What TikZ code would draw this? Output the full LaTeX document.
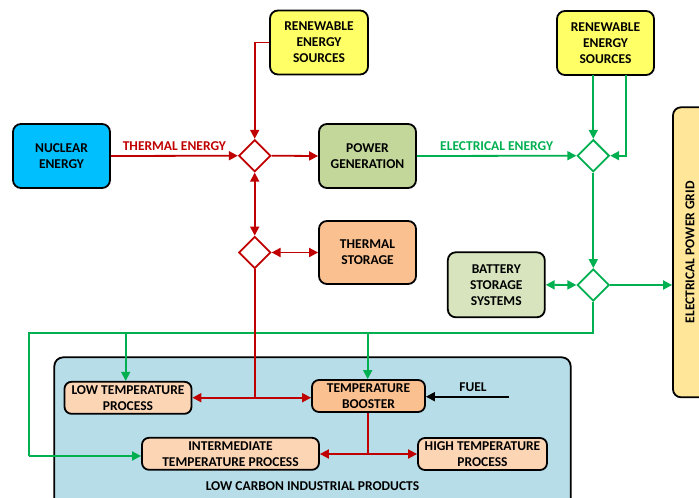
\documentclass[tikz,border=0pt]{standalone}
\usepackage{fontspec}
\setmainfont{Carlito}
\usetikzlibrary{shapes.geometric,arrows.meta}
\definecolor{flowred}{HTML}{C00000}
\definecolor{flowgreen}{HTML}{00B050}
\definecolor{nuccyan}{HTML}{00BFFF}
\definecolor{renyellow}{HTML}{FFFF66}
\definecolor{gengreen}{HTML}{C4D79B}
\definecolor{peachdark}{HTML}{FAC090}
\definecolor{peachlight}{HTML}{FCD5B5}
\definecolor{batgreen}{HTML}{D7E4BD}
\definecolor{indblue}{HTML}{B7DEE8}
\definecolor{gridyellow}{HTML}{FFE699}
\tikzset{
  box/.style={draw=black, line width=1.8pt, rounded corners=8pt, align=center,
    inner sep=0pt, font=\fontsize{13.5}{16}\selectfont\bfseries},
  smallbox/.style={box, rounded corners=7pt, font=\fontsize{13.5}{16}\selectfont\bfseries},
  junction/.style={diamond, draw, fill=white, line width=1.8pt, aspect=1,
    minimum width=32pt, minimum height=32pt, inner sep=0pt},
  tip/.style={-{Triangle[length=9pt,width=9pt]}},
  twotip/.style={{Triangle[length=9pt,width=9pt]}-{Triangle[length=9pt,width=9pt]}},
  redflow/.style={draw=flowred, line width=1.8pt, color=flowred},
  greenflow/.style={draw=flowgreen, line width=1.8pt, color=flowgreen},
  flowlabel/.style={font=\fontsize{13.5}{16}\selectfont\bfseries}
}
\begin{document}
\begin{tikzpicture}[x=1pt,y=-1pt]
\clip (0,0) rectangle (699,498);
\useasboundingbox (0,0) rectangle (699,498);

% industrial products area
\draw[fill=indblue, line width=1.8pt, rounded corners=9pt] (54.3,357.3) rectangle (570.7,515);
\node[flowlabel] (prodlabel) at (312.5,486.5) {LOW CARBON INDUSTRIAL PRODUCTS};

% main blocks
\node[box, fill=nuccyan, minimum width=97pt, minimum height=64pt] (nuc) at (61.5,156) {NUCLEAR\\ENERGY};
\node[box, fill=renyellow, minimum width=98pt, minimum height=64pt] (ren1) at (319,42.5) {RENEWABLE\\ENERGY\\SOURCES};
\node[box, fill=renyellow, minimum width=97pt, minimum height=64pt] (ren2) at (605.5,43) {RENEWABLE\\ENERGY\\SOURCES};
\node[box, fill=gengreen, minimum width=97pt, minimum height=64pt] (pg) at (367.5,156) {POWER\\GENERATION};
\node[box, fill=peachdark, minimum width=97pt, minimum height=63pt] (ts) at (367.5,252.5) {THERMAL\\STORAGE};
\node[box, fill=batgreen, minimum width=97pt, minimum height=65pt] (bat) at (496.3,284.8) {BATTERY\\STORAGE\\SYSTEMS};
\node[box, fill=gridyellow, minimum width=290pt, minimum height=34pt, rotate=90] (grid) at (690,252.3) {ELECTRICAL POWER GRID};

% process blocks
\node[smallbox, fill=peachlight, minimum width=127pt, minimum height=32pt] (ltp) at (128,397.8) {LOW TEMPERATURE\\PROCESS};
\node[smallbox, fill=peachdark, minimum width=113pt, minimum height=32pt] (tb) at (368.5,396) {TEMPERATURE\\BOOSTER};
\node[smallbox, fill=peachlight, minimum width=177pt, minimum height=32pt] (itp) at (230.5,453.8) {INTERMEDIATE\\TEMPERATURE PROCESS};
\node[smallbox, fill=peachlight, minimum width=129pt, minimum height=32pt] (htp) at (482.5,454) {HIGH TEMPERATURE\\PROCESS};

% junctions
\node[junction, draw=flowred] (d1) at (254.7,155.7) {};
\node[junction, draw=flowred] (d2) at (254.7,252.5) {};
\node[junction, draw=flowgreen] (d3) at (593.3,155.7) {};
\node[junction, draw=flowgreen] (d4) at (593.3,285) {};

% helper points
\coordinate (redsplit) at (254.7,397.7);
\coordinate (boostsplit) at (368.3,454);
\coordinate (fuelsrc) at (509.3,396.7);
\coordinate (ren2a) at (593.3,75);
\coordinate (ren2b) at (625.7,75);
\coordinate (gbusR) at (593.3,333);
\coordinate (gbusL) at (28.7,333);
\coordinate (gdown) at (28.7,456);
\coordinate (gltp) at (125.7,333);
\coordinate (gtb) at (367.7,333);

% thermal paths
\draw[redflow, tip] (nuc.east) -- node[flowlabel, above=1pt] {THERMAL ENERGY} (d1.west);
\draw[redflow, tip] (ren1.west) -| (d1.north);
\draw[redflow, tip] (d1.east) -- (pg.west);
\draw[redflow, twotip] (d1.south) -- (d2.north);
\draw[redflow, twotip] (d2.east) -- (ts.west);

% electrical paths
\draw[greenflow, tip] (pg.east) -- node[flowlabel, above=1pt] {ELECTRICAL ENERGY} (d3.west);
\draw[greenflow, tip] (ren2a) -- (d3.north);
\draw[greenflow, tip] (ren2b) |- (d3.east);
\draw[greenflow, tip] (d3.south) -- (d4.north);
\draw[greenflow, twotip] (bat.east) -- (d4.west);
\draw[greenflow, tip] (d4.east) -- (d4.east -| grid.north);
\draw[greenflow] (d4.south) -- (gbusR) -- (gbusL) -- (gdown);
\draw[greenflow, tip] (gdown) -- (gdown -| itp.west);
\draw[greenflow, tip] (gltp) -- (gltp |- ltp.north);
\draw[greenflow, tip] (gtb) -- (gtb |- tb.north);

% heat to processes
\draw[redflow] (d2.south) -- (redsplit);
\draw[redflow, tip] (redsplit) -- (redsplit -| ltp.east);
\draw[redflow, tip] (redsplit) -- (redsplit -| tb.west);
\draw[redflow] (tb.south -| boostsplit) -- (boostsplit);
\draw[redflow, tip] (boostsplit) -- (boostsplit -| itp.east);
\draw[redflow, tip] (boostsplit) -- (boostsplit -| htp.west);

% fuel input
\draw[line width=1.8pt, tip] (fuelsrc) -- (fuelsrc -| tb.east);
\node[flowlabel] (fuellabel) at (473,387.5) {FUEL};
\end{tikzpicture}
\end{document}
